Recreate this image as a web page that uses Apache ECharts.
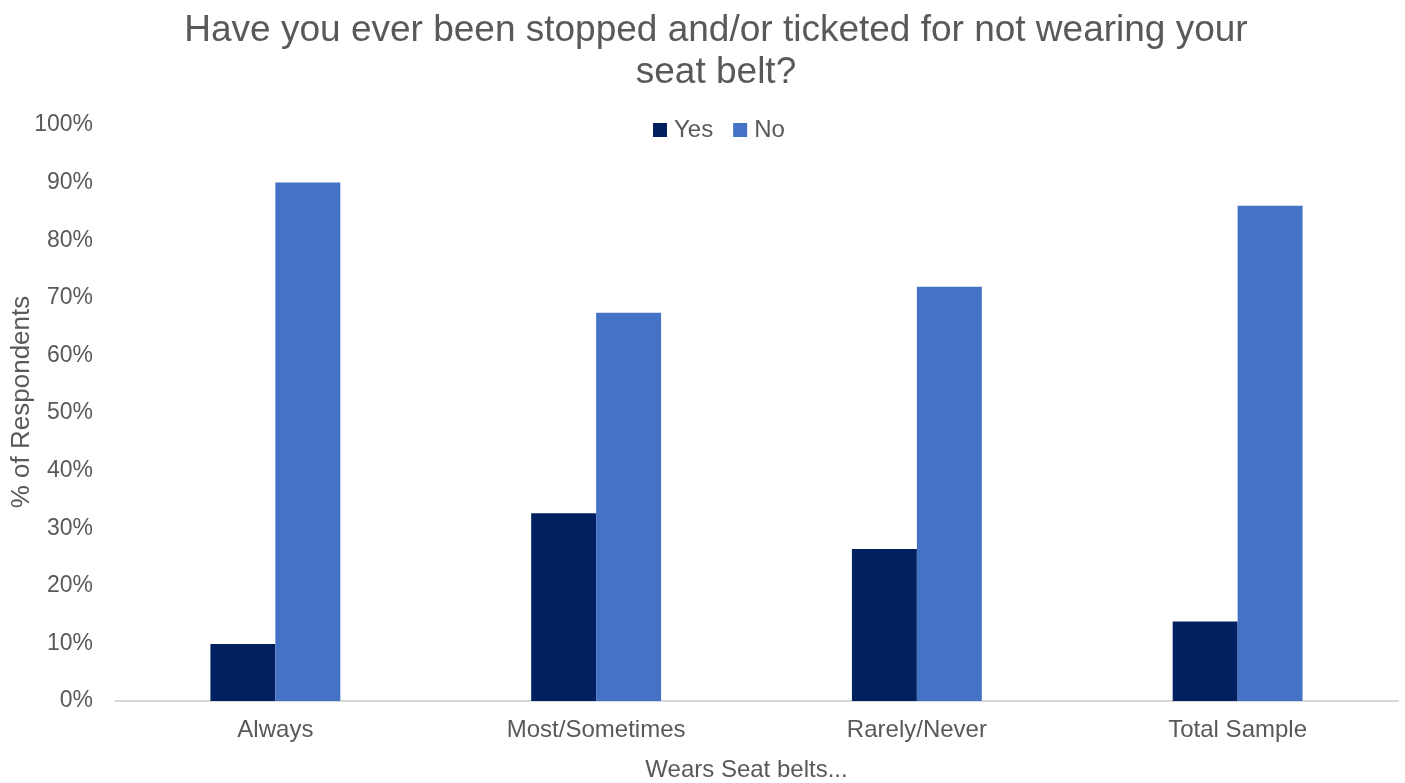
<!DOCTYPE html>
<html>
<head>
<meta charset="utf-8">
<script src="https://cdn.jsdelivr.net/npm/echarts@6/dist/echarts.min.js"></script>
<style>
html,body{margin:0;padding:0;background:#fff;}
#chart{width:1405px;height:783px;}
</style>
</head>
<body>
<div id="chart"></div>
<script>
// Survey responses by seat belt usage group
const categories = ['Always', 'Most/Sometimes', 'Rarely/Never', 'Total Sample'];
const yesValues = [9.9, 32.6, 26.4, 13.8];
const noValues = [90.0, 67.4, 71.9, 86.0];
const yTicks = [0, 10, 20, 30, 40, 50, 60, 70, 80, 90, 100];

const font = 'Liberation Sans, Arial, sans-serif';
const textColor = '#595959';

const chart = echarts.init(document.getElementById('chart'));
chart.setOption({
  animation: false,
  title: {
    text: 'Have you ever been stopped and/or ticketed for not wearing your\nseat belt?',
    left: 711,
    top: 5,
    textAlign: 'center',
    textStyle: { fontFamily: font, fontSize: 37, fontWeight: 'normal', color: textColor, lineHeight: 42 }
  },
  legend: {
    data: ['Yes', 'No'],
    top: 113,
    left: 648,
    itemWidth: 14,
    itemHeight: 14,
    itemGap: 20,
    icon: 'rect',
    textStyle: { fontFamily: font, fontSize: 24, color: textColor, padding: [0, 0, 0, 2] }
  },
  grid: { left: 115, right: 7, top: 125, bottom: 82, containLabel: false, outerBoundsMode: 'none' },
  xAxis: {
    type: 'category',
    data: categories,
    name: 'Wears Seat belts...',
    nameLocation: 'middle',
    nameGap: 57,
    nameMoveOverlap: false,
    nameTextStyle: { fontFamily: font, fontSize: 24, color: textColor, padding: [0, 20, 0, 0] },
    axisLine: { lineStyle: { color: '#d9d9d9', width: 2 } },
    axisTick: { show: false },
    axisLabel: { fontFamily: font, fontSize: 24, color: textColor, margin: 17 }
  },
  yAxis: {
    type: 'value',
    min: 0,
    max: 100,
    interval: 10,
    name: '% of Respondents',
    nameLocation: 'middle',
    nameGap: 80,
    nameMoveOverlap: false,
    nameTextStyle: { fontFamily: font, fontSize: 26, color: textColor, padding: [0, 0, 0, 22] },
    splitLine: { show: false },
    axisLine: { show: false },
    axisTick: { show: false },
    axisLabel: {
      fontFamily: font, fontSize: 23, color: textColor, margin: 22,
      formatter: v => (yTicks.includes(v) ? v + '%' : '')
    }
  },
  series: [
    {
      name: 'Yes', type: 'bar', data: yesValues,
      itemStyle: { color: '#002060' },
      barGap: '0%', barCategoryGap: '59.5%'
    },
    {
      name: 'No', type: 'bar', data: noValues,
      itemStyle: { color: '#4472c4' },
      barGap: '0%', barCategoryGap: '59.5%'
    }
  ]
});
</script>
</body>
</html>
